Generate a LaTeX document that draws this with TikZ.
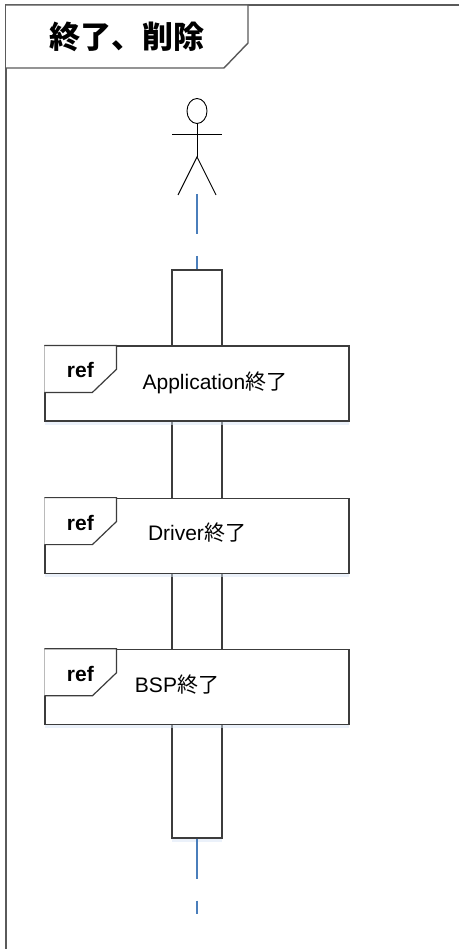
\documentclass[tikz,border=0pt]{standalone}
\usepackage{fontspec}
\setmainfont{Liberation Sans}
\newfontfamily\cjk{Noto Sans CJK JP}
\usetikzlibrary{positioning,shadows,shapes.geometric}

\definecolor{framegray}{RGB}{90,90,90}
\definecolor{boxgray}{RGB}{60,60,60}
\definecolor{lifeblue}{RGB}{74,126,187}
\definecolor{glowblue}{RGB}{215,228,245}

% ref tab in the top left corner of a ref box
\newcommand\reftab[1]{%
  \draw[boxline,fill=white] (#1.north west) -- ++(72,0) -- ++(0,24) -- ++(-24,23) -- ++(-48,0);
  \node[reflabel] (#1ref) at ([xshift=36pt,yshift=-25pt]#1.north west) {ref};
}

\begin{document}
\begin{tikzpicture}
  [x=1pt,y=-1pt,
   boxline/.style={draw=boxgray,line width=1.2pt},
   glow/.style={drop shadow={shadow xshift=0pt,shadow yshift=-4pt,fill=glowblue,opacity=.5}},
   refbox/.style={boxline,fill=white,glow,minimum width=304pt,minimum height=75pt,inner sep=0pt},
   actbox/.style={boxline,fill=white,glow,minimum width=50pt,minimum height=568pt,inner sep=0pt},
   reflabel/.style={font=\fontsize{21}{25}\selectfont\bfseries,inner sep=0pt},
   reftext/.style={font=\fontsize{21}{25}\selectfont,inner sep=0pt},
   titletext/.style={font=\cjk\fontsize{31}{36}\selectfont\bfseries,inner sep=0pt},
   lifeline/.style={draw=lifeblue,line width=2pt,dash pattern=on 40pt off 22pt},
   actorline/.style={draw=black,line width=.9pt}]
  \useasboundingbox (0,0) rectangle (459,949);

  % frame and title tab
  \draw[draw=framegray,line width=1.6pt] (459,5) -- (6,5) -- (6,949);
  \draw[draw=framegray,line width=1.4pt,fill=white] (6,5) -- (248,5) -- (248,43) -- (224,68) -- (6,68);
  \node[titletext] (title) at (127,37) {終了、削除};

  % actor
  \node[actorline,ellipse,minimum width=20pt,minimum height=25pt,inner sep=0pt] (head) at (197,111) {};
  \coordinate (hip) at (197,157);
  \draw[actorline] (head.south) -- (hip);
  \draw[actorline] (172,134) -- (222,134);
  \draw[actorline] (178,195) -- (hip) -- (216,195);
  \coordinate (actor) at (197,194);

  % activation
  \node[actbox] (act) at (197,554) {};
  \coordinate (end) at (197,914);
  \draw[lifeline] (actor) -- (act.north);
  \draw[lifeline] (act.south) -- (end);

  % ref boxes
  \node[refbox] (app) at (197,383.5) {};
  \node[refbox] (drv) [below=76pt of app] {};
  \node[refbox] (bsp) [below=75pt of drv] {};
  \reftab{app}
  \reftab{drv}
  \reftab{bsp}
  \node[reftext] (appt) at (215,383) {Application{\cjk 終了}};
  \node[reftext] (drvt) at (197,533) {Driver{\cjk 終了}};
  \node[reftext] (bspt) at (177,685) {BSP{\cjk 終了}};
\end{tikzpicture}
\end{document}
